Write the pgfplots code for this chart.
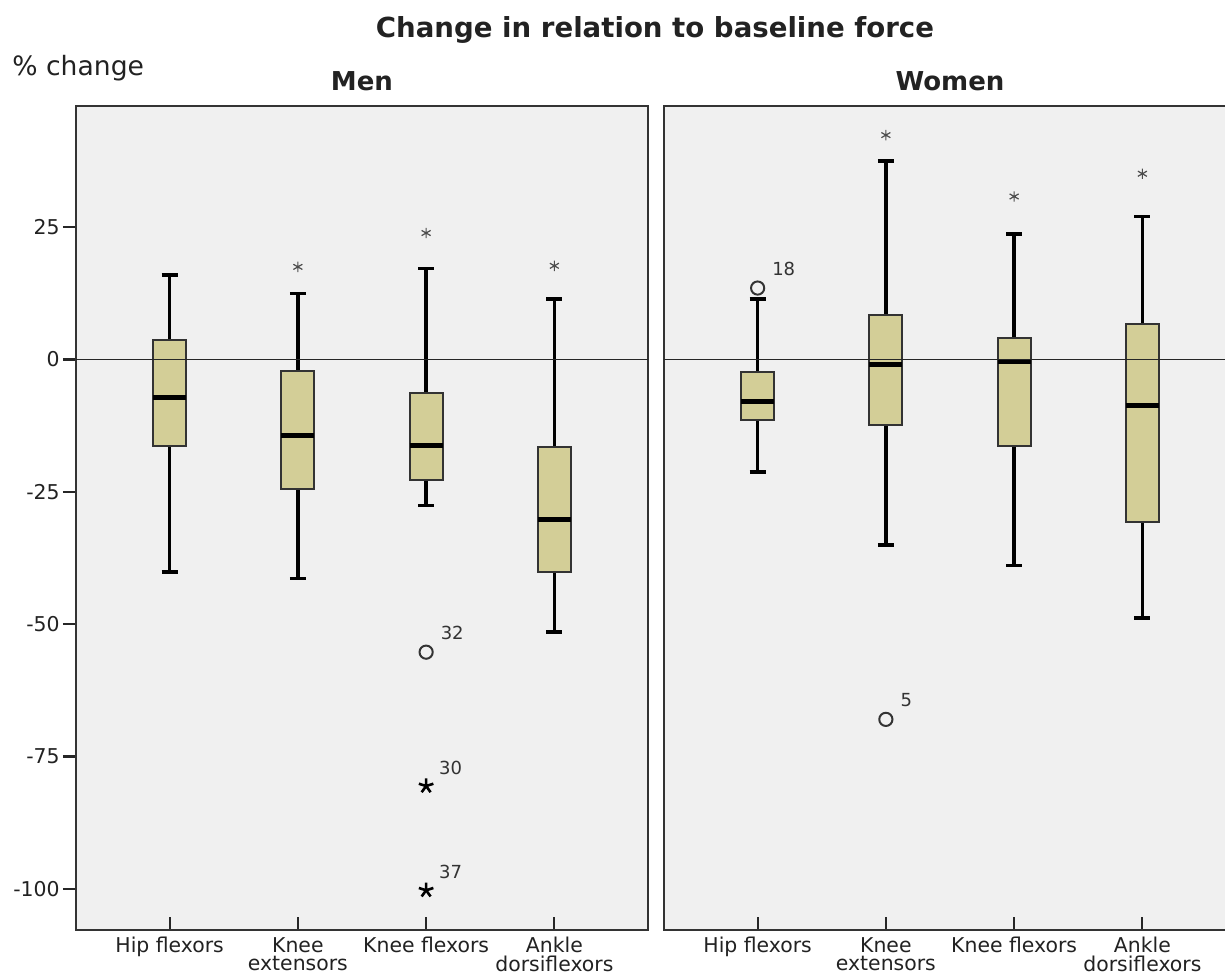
\documentclass[border=0pt]{standalone}
\usepackage{fontspec}
\setmainfont{DejaVu Sans}
\usepackage{pgfplots}
\usepgfplotslibrary{statistics}
\pgfplotsset{compat=1.18}
\definecolor{panelbg}{HTML}{F0F0F0}
\definecolor{boxfill}{HTML}{D3CE97}
\definecolor{txt}{HTML}{222222}

\pgfplotsset{
  panel/.style={
    scale only axis, width=286pt, height=412pt,
    xmin=0.27, xmax=4.73, ymin=-107.8, ymax=47.9,
    axis background/.style={fill=panelbg},
    axis line style={draw=black!80, line width=1pt},
    tick align=inside,
    xtick={1,2,3,4},
    xtick pos=bottom,
    xticklabels={Hip flexors,{Knee\\extensors},Knee flexors,{Ankle\\dorsiflexors}},
    xticklabel style={align=center, font=\fontsize{10.2}{9.2}\selectfont, text=txt, inner sep=0pt, yshift=-3.5pt},
    major tick length=6.5pt,
    tick style={line width=1.1pt, black!85},
    boxplot/draw direction=y,
    boxplot/box extend=0.257,
    boxplot/whisker extend=0.125,
    boxplot/every box/.style={fill=boxfill, draw=black!80, line width=1pt},
    boxplot/every whisker/.style={draw=black, line width=1.8pt},
    boxplot/every median/.style={draw=black, line width=2.5pt},
  },
  sig/.style={only marks, mark=asterisk, mark size=2.6pt, mark options={line width=0.6pt, draw=black!70}},
  outc/.style={only marks, mark=o, mark size=3.3pt, mark options={line width=1pt, draw=black!80},
    nodes near coords, point meta=explicit symbolic,
    every node near coord/.style={anchor=west, xshift=3.5pt, yshift=9.5pt, font=\fontsize{9}{10}\selectfont, text=black!80}},
  outs/.style={only marks, mark=star, mark size=3.8pt, mark options={line width=1.3pt, draw=black},
    nodes near coords, point meta=explicit symbolic,
    every node near coord/.style={anchor=west, xshift=2.5pt, yshift=9pt, font=\fontsize{9}{10}\selectfont, text=black!80}},
}

\begin{document}
\begin{tikzpicture}
% Men
\begin{axis}[panel, at={(38pt,22.5pt)}, anchor=south west,
    ytick={-100,-75,-50,-25,0,25},
    yticklabels={-100,-75,-50,-25,0,25},
    ytick pos=left,
    ytick style={xshift=-6.5pt},
    yticklabel style={font=\fontsize{10.2}{12}\selectfont, text=txt, inner sep=0pt, anchor=east, xshift=-8pt}]
\addplot[boxplot prepared={lower whisker=-40.1, lower quartile=-16.4, median=-7.2, upper quartile=3.7, upper whisker=16.0, draw position=1}] coordinates {};
\addplot[boxplot prepared={lower whisker=-41.4, lower quartile=-24.5, median=-14.3, upper quartile=-2.1, upper whisker=12.5, draw position=2}] coordinates {};
\addplot[boxplot prepared={lower whisker=-27.6, lower quartile=-22.8, median=-16.3, upper quartile=-6.3, upper whisker=17.2, draw position=3}] coordinates {};
\addplot[boxplot prepared={lower whisker=-51.5, lower quartile=-40.1, median=-30.2, upper quartile=-16.6, upper whisker=11.4, draw position=4}] coordinates {};
\addplot[black!85, line width=0.8pt] coordinates {(0.27,0) (4.73,0)};
\addplot[sig] coordinates {(2,17.5) (3,23.9) (4,17.7)};
\addplot[outc] coordinates {(3,-55.3) [32]};
\addplot[outs] coordinates {(3,-80.6) [30] (3,-100.3) [37]};
\end{axis}
% Women
\begin{axis}[panel, at={(332pt,22.5pt)}, anchor=south west, ytick=\empty]
\addplot[boxplot prepared={lower whisker=-21.3, lower quartile=-11.5, median=-8.0, upper quartile=-2.4, upper whisker=11.4, draw position=1}] coordinates {};
\addplot[boxplot prepared={lower whisker=-35.1, lower quartile=-12.4, median=-1.0, upper quartile=8.4, upper whisker=37.5, draw position=2}] coordinates {};
\addplot[boxplot prepared={lower whisker=-38.9, lower quartile=-16.4, median=-0.4, upper quartile=4.1, upper whisker=23.7, draw position=3}] coordinates {};
\addplot[boxplot prepared={lower whisker=-48.9, lower quartile=-30.7, median=-8.7, upper quartile=6.8, upper whisker=27.0, draw position=4}] coordinates {};
\addplot[black!85, line width=0.8pt] coordinates {(0.27,0) (4.73,0)};
\addplot[sig] coordinates {(2,42.4) (3,30.8) (4,35.1)};
\addplot[outc] coordinates {(1,13.5) [18] (2,-68.0) [5]};
\end{axis}
\node[anchor=base, font=\bfseries\fontsize{13.8}{16}\selectfont, text=txt, inner sep=0pt] at (327.5pt,468.5pt) {Change in relation to baseline force};
\node[anchor=base, font=\bfseries\fontsize{13}{16}\selectfont, text=txt, inner sep=0pt] at (181pt,442pt) {Men};
\node[anchor=base, font=\bfseries\fontsize{13}{16}\selectfont, text=txt, inner sep=0pt] at (475pt,442pt) {Women};
\node[anchor=base west, font=\fontsize{13.3}{16}\selectfont, text=txt, inner sep=0pt] at (6pt,449.5pt) {\% change};
\pgfresetboundingbox
\useasboundingbox (0,0) rectangle (612.5pt,487.5pt);
\end{tikzpicture}
\end{document}
